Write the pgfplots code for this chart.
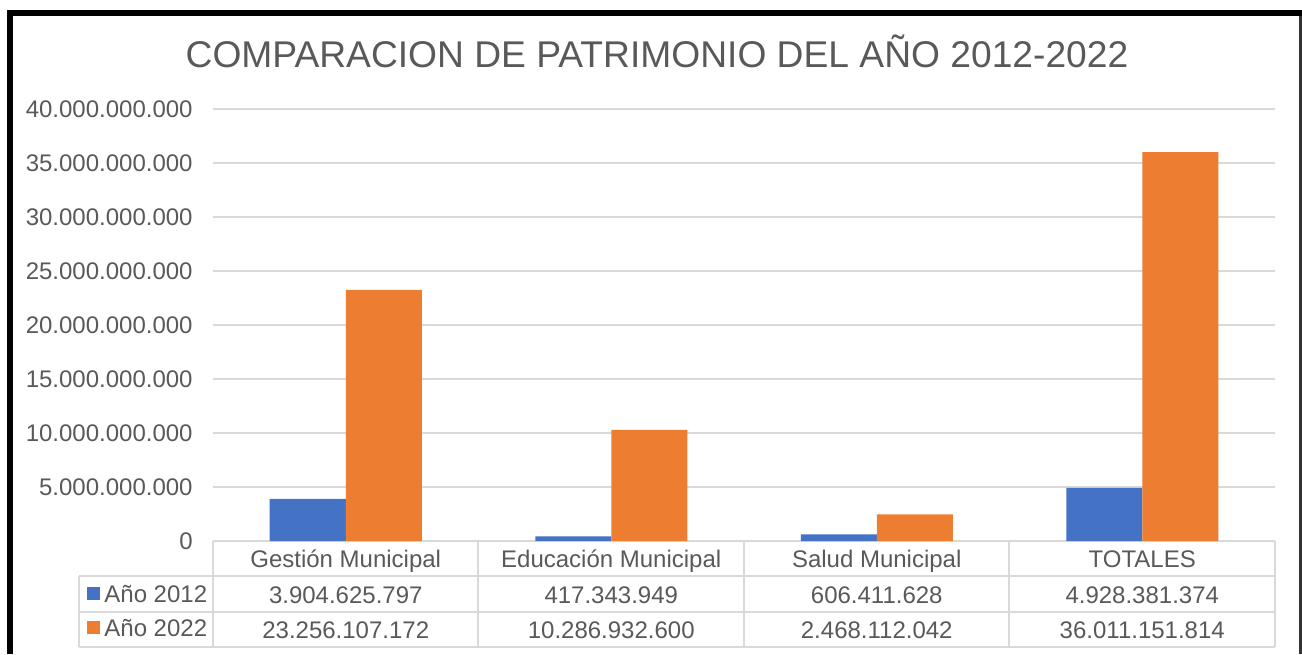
\documentclass[border=0pt]{standalone}
\usepackage{fontspec}
\setmainfont{Liberation Sans}
\usepackage{pgfplots}
\pgfplotsset{compat=1.18}
\definecolor{c2012}{HTML}{4472C4}
\definecolor{c2022}{HTML}{ED7D31}
\definecolor{txtgray}{HTML}{595959}
\definecolor{gridgray}{HTML}{D9D9D9}
\newcommand{\tabfont}{\fontsize{12}{14}\selectfont}
\begin{document}
\begin{tikzpicture}[x=0.5pt,y=0.5pt]
\useasboundingbox (0,0) rectangle (1302,654);
% marco negro (recortado a la derecha y abajo)
\fill[black] (7,644) rectangle (13,0);
\fill[black] (7,644) rectangle (1302,638);
\fill[black!80] (1299,638) rectangle (1302,0);
\node[anchor=base, text=txtgray, font=\fontsize{18.6}{22}\selectfont] at (657,586)
  {COMPARACION DE PATRIMONIO DEL AÑO 2012-2022};
% lineas de la tabla de datos
\begin{scope}[gridgray, line width=1pt]
  \draw (79,78) -- (1275,78);
  \draw (79,42) -- (1275,42);
  \draw (79,7) -- (1275,7);
  \draw (79,78) -- (79,7);
  \foreach \xx in {213,478,744,1009,1275} \draw (\xx,113) -- (\xx,7);
\end{scope}
\begin{axis}[
  at={(106.5pt,56.5pt)}, anchor=south west,
  scale only axis, width=531pt, height=216pt,
  xmin=-0.5, xmax=3.5, ymin=0, ymax=40000000000,
  clip=false,
  axis line style={draw=none}, tick style={draw=none},
  ymajorgrids, major grid style={gridgray, line width=1pt},
  scaled y ticks=false,
  ytick={0,5e9,1e10,1.5e10,2e10,2.5e10,3e10,3.5e10,4e10},
  yticklabels={0,5.000.000.000,10.000.000.000,15.000.000.000,20.000.000.000,
    25.000.000.000,30.000.000.000,35.000.000.000,40.000.000.000},
  yticklabel style={anchor=east, inner sep=0pt, xshift=-10pt, text=txtgray, font=\tabfont},
  xtick={0,1,2,3},
  xticklabels={Gestión Municipal, Educación Municipal, Salud Municipal, TOTALES},
  xticklabel style={anchor=base, inner sep=0pt, yshift=-13pt, text=txtgray, font=\tabfont},
  legend cell align=left,
  legend style={at={(-0.11864,-0.0995)}, anchor=north west, draw=none, fill=none,
    inner sep=0pt, font=\tabfont, text=txtgray, row sep=5pt, column sep=2pt,
    nodes={inner sep=0pt, text height=9pt, text depth=3pt}},
]
\addplot[ybar, bar width=38pt, bar shift=-19pt, fill=c2012, draw=none,
  legend image code/.code={\fill[c2012] (0pt,-2pt) rectangle (6.5pt,4.5pt);}]
  coordinates {(0,3904625797) (1,417343949) (2,606411628) (3,4928381374)};
\addlegendentry{Año 2012}
\addplot[ybar, bar width=38pt, bar shift=19pt, fill=c2022, draw=none,
  legend image code/.code={\fill[c2022] (0pt,-2pt) rectangle (6.5pt,4.5pt);}]
  coordinates {(0,23256107172) (1,10286932600) (2,2468112042) (3,36011151814)};
\addlegendentry{Año 2022}
% valores de la tabla
\addplot[only marks, mark=none, forget plot, point meta=explicit symbolic, nodes near coords,
  every node near coord/.append style={anchor=base, inner sep=0pt, text depth=0pt,
    yshift=-31pt, text=txtgray, font=\tabfont}]
  coordinates {(0,0) [3.904.625.797] (1,0) [417.343.949] (2,0) [606.411.628] (3,0) [4.928.381.374]};
\addplot[only marks, mark=none, forget plot, point meta=explicit symbolic, nodes near coords,
  every node near coord/.append style={anchor=base, inner sep=0pt, text depth=0pt,
    yshift=-48.5pt, text=txtgray, font=\tabfont}]
  coordinates {(0,0) [23.256.107.172] (1,0) [10.286.932.600] (2,0) [2.468.112.042] (3,0) [36.011.151.814]};
\end{axis}
\end{tikzpicture}
\end{document}
